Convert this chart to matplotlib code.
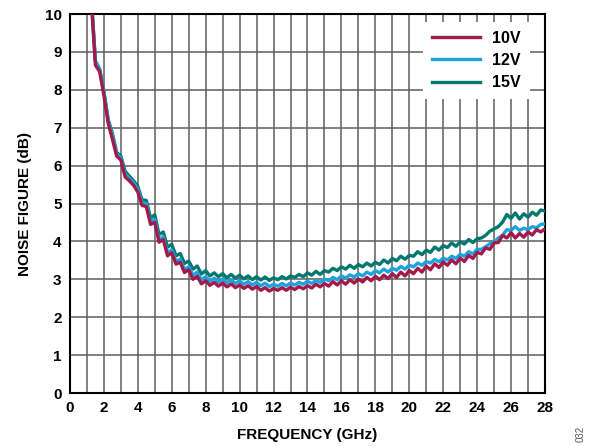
import numpy as np
import matplotlib
matplotlib.use("Agg")
import matplotlib.pyplot as plt
from matplotlib.ticker import MultipleLocator

plt.rcParams["font.family"] = ["Liberation Sans", "DejaVu Sans"]
plt.rcParams["font.weight"] = "bold"

# Frequency sample points (GHz), 0.25 GHz spacing
freq_ghz = np.arange(1.25, 28.001, 0.25)

# Noise figure (dB), one row per GHz (4 samples each)
nf_10v = [
    10.40, 8.65, 8.48, 7.85,
    7.12, 6.70, 6.25, 6.15,
    5.70, 5.60, 5.48, 5.30,
    4.95, 4.92, 4.45, 4.50,
    3.98, 4.05, 3.62, 3.70,
    3.40, 3.45, 3.18, 3.25,
    3.00, 3.08, 2.88, 2.96,
    2.84, 2.92, 2.82, 2.90,
    2.80, 2.88, 2.78, 2.85,
    2.76, 2.83, 2.74, 2.81,
    2.71, 2.78, 2.69, 2.76,
    2.71, 2.78, 2.71, 2.79,
    2.73, 2.81, 2.75, 2.83,
    2.77, 2.87, 2.80, 2.89,
    2.82, 2.94, 2.85, 2.96,
    2.87, 2.99, 2.90, 3.01,
    2.93, 3.05, 2.96, 3.08,
    2.99, 3.11, 3.02, 3.15,
    3.05, 3.19, 3.09, 3.23,
    3.15, 3.29, 3.19, 3.35,
    3.25, 3.41, 3.31, 3.46,
    3.37, 3.51, 3.41, 3.56,
    3.47, 3.63, 3.55, 3.71,
    3.67, 3.83, 3.79, 3.96,
    3.97, 4.16, 4.09, 4.23,
    4.09, 4.21, 4.11, 4.25,
    4.17, 4.31, 4.25, 4.33,
]

nf_12v = [
    10.50, 8.75, 8.55, 7.95,
    7.20, 6.80, 6.32, 6.20,
    5.78, 5.66, 5.55, 5.38,
    5.02, 5.00, 4.52, 4.58,
    4.05, 4.12, 3.70, 3.78,
    3.48, 3.53, 3.26, 3.33,
    3.11, 3.19, 2.99, 3.07,
    2.95, 3.03, 2.93, 3.01,
    2.91, 2.99, 2.89, 2.96,
    2.87, 2.94, 2.85, 2.92,
    2.83, 2.90, 2.81, 2.87,
    2.82, 2.89, 2.83, 2.90,
    2.85, 2.92, 2.87, 2.95,
    2.89, 2.97, 2.92, 3.01,
    2.96, 3.05, 2.99, 3.09,
    3.03, 3.12, 3.06, 3.15,
    3.09, 3.19, 3.13, 3.23,
    3.17, 3.27, 3.19, 3.29,
    3.24, 3.34, 3.27, 3.37,
    3.33, 3.43, 3.37, 3.47,
    3.43, 3.53, 3.46, 3.56,
    3.51, 3.61, 3.55, 3.66,
    3.61, 3.73, 3.67, 3.79,
    3.79, 3.86, 3.94, 3.99,
    4.09, 4.16, 4.31, 4.29,
    4.39, 4.29, 4.35, 4.31,
    4.39, 4.36, 4.45, 4.46,
]

nf_15v = [
    10.50, 8.75, 8.55, 7.95,
    7.22, 6.85, 6.35, 6.25,
    5.85, 5.72, 5.60, 5.45,
    5.10, 5.08, 4.62, 4.70,
    4.18, 4.25, 3.85, 3.92,
    3.62, 3.68, 3.42, 3.48,
    3.27, 3.35, 3.14, 3.23,
    3.09, 3.17, 3.07, 3.15,
    3.04, 3.13, 3.03, 3.11,
    3.01, 3.09, 2.99, 3.07,
    2.98, 3.06, 2.97, 3.04,
    2.99, 3.07, 3.01, 3.09,
    3.05, 3.13, 3.07, 3.17,
    3.11, 3.21, 3.13, 3.23,
    3.19, 3.29, 3.23, 3.33,
    3.27, 3.37, 3.29, 3.39,
    3.33, 3.43, 3.35, 3.45,
    3.39, 3.51, 3.43, 3.55,
    3.49, 3.61, 3.53, 3.63,
    3.61, 3.73, 3.65, 3.77,
    3.71, 3.85, 3.77, 3.89,
    3.84, 3.96, 3.87, 3.99,
    3.93, 4.05, 3.97, 4.07,
    4.09, 4.16, 4.27, 4.33,
    4.39, 4.51, 4.71, 4.61,
    4.75, 4.59, 4.73, 4.64,
    4.77, 4.69, 4.83, 4.80,
]

x_ticks = list(range(0, 29, 2))
y_ticks = list(range(0, 11, 1))

series = [
    ("15V", nf_15v, "#00786E"),
    ("12V", nf_12v, "#1AA3DC"),
    ("10V", nf_10v, "#A21A4B"),
]

fig = plt.figure(figsize=(5.96, 4.46), dpi=100)
ax = fig.add_axes([0.1174, 0.1188, 0.7970, 0.8498])

lines = {}
for name, vals, color in series:
    (ln,) = ax.plot(freq_ghz, vals, color=color, lw=2.4, label=name,
                    solid_joinstyle="round", zorder=3)
    lines[name] = ln

ax.set_xlim(0, 28)
ax.set_ylim(0, 10)
ax.set_xticks(x_ticks)
ax.set_yticks(y_ticks)
ax.xaxis.set_minor_locator(MultipleLocator(1))
ax.grid(which="both", axis="x", color="#5e5e5e", lw=1.1, zorder=1)
ax.grid(which="major", axis="y", color="#5e5e5e", lw=1.1, zorder=1)
ax.tick_params(which="both", length=0, labelsize=11, pad=6)
for lab in ax.get_xticklabels() + ax.get_yticklabels():
    lab.set_fontweight("bold")
for sp in ax.spines.values():
    sp.set_linewidth(1.5)
    sp.set_color("black")

ax.set_xlabel("FREQUENCY (GHz)", fontsize=11, fontweight="bold", labelpad=9)
ax.set_ylabel("NOISE FIGURE (dB)", fontsize=11, fontweight="bold", labelpad=9)

leg = ax.legend(handles=[lines["10V"], lines["12V"], lines["15V"]],
                loc="upper right", bbox_to_anchor=(0.985, 1.0),
                frameon=True, fancybox=False, framealpha=1.0,
                edgecolor="white", facecolor="white",
                handlelength=3.0, handletextpad=0.8, labelspacing=0.45,
                borderpad=0.55, prop={"weight": "bold", "size": 11.5})
leg.get_frame().set_linewidth(0)
leg.set_zorder(5)

fig.text(0.975, 0.01, "032", rotation=90, fontsize=7, color="#555555",
         fontweight="normal", ha="center", va="bottom")

fig.savefig("out.png", dpi=100)
